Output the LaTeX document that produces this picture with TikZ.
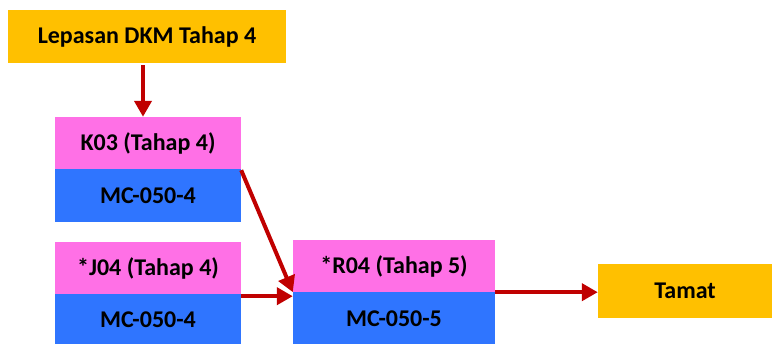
\documentclass[tikz,border=0pt]{standalone}
\usepackage{fontspec}
\setmainfont{Carlito}
\usetikzlibrary{arrows.meta,positioning}

\definecolor{kuning}{RGB}{255,192,0}
\definecolor{merahjambu}{RGB}{255,112,230}
\definecolor{biru}{RGB}{47,117,255}
\definecolor{merah}{RGB}{192,0,0}

\tikzset{
    kotak/.style={fill=kuning, minimum width=#1, minimum height=53pt, inner sep=0pt,
        font=\fontsize{24}{28}\selectfont\bfseries},
    atas/.style={fill=merahjambu, minimum width=#1, minimum height=52pt, inner sep=0pt,
        font=\fontsize{24}{28}\selectfont\bfseries},
    bawah/.style={fill=biru, minimum width=#1, minimum height=52pt, inner sep=0pt,
        font=\fontsize{24}{28}\selectfont\bfseries},
    anak/.style={-{Triangle[length=16pt,width=17pt]}, draw=merah, line width=4pt}
}

\begin{document}
\begin{tikzpicture}[x=1pt,y=1pt]

    \useasboundingbox (0,0) rectangle (774,344);

    % permulaan
    \node[kotak=278pt] (lepasan) at (147,307.5) {Lepasan DKM Tahap 4};

    % tahap 4
    \node[atas=186pt] (k03) at (148,201) {K03 (Tahap 4)};
    \node[bawah=186pt, minimum height=53pt, below=0pt of k03] (k03kod) {MC-050-4};

    \node[atas=186pt] (j04) at (148,76) {*J04 (Tahap 4)};
    \node[bawah=186pt, minimum height=50pt, below=0pt of j04] (j04kod) {MC-050-4};

    % tahap 5
    \node[atas=202pt] (r04) at (394,78) {*R04 (Tahap 5)};
    \node[bawah=202pt, below=0pt of r04] (r04kod) {MC-050-5};

    % akhir
    \node[kotak=174pt, minimum height=54pt] (tamat) at (685,53) {Tamat};

    % anak panah
    \draw[anak] ([xshift=-4pt,yshift=-2pt]lepasan.south) -- ([xshift=-5pt]k03.north);
    \draw[anak] ([yshift=-1pt]k03.south east) -- (r04.south west);
    \draw[anak] ([yshift=-2pt]j04.south east) -- ([yshift=-2pt]j04.south east -| r04.west);
    \draw[anak] (r04.south east) -- (r04.south east -| tamat.west);

\end{tikzpicture}
\end{document}
